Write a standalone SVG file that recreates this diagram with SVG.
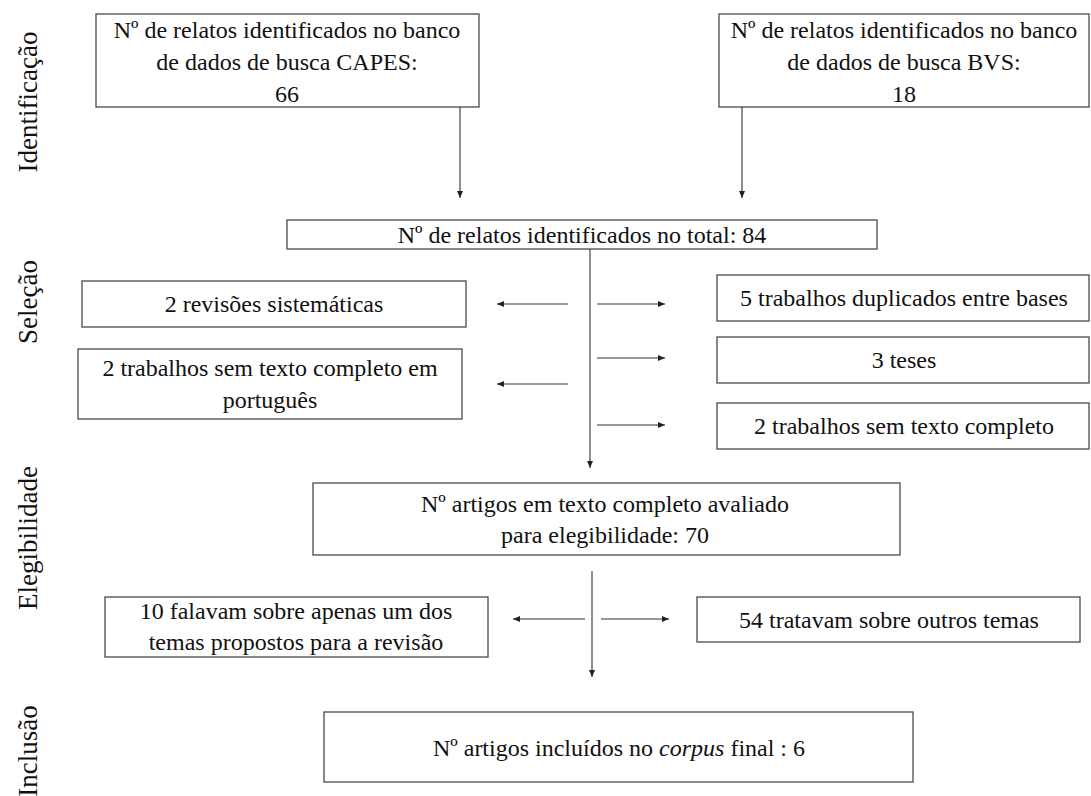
<svg xmlns="http://www.w3.org/2000/svg" width="1091" height="796" viewBox="0 0 1091 796">
<defs>
<style>
.box{fill:#fff;stroke:#4a4a4a;stroke-width:1.3}
.t{font-family:'Liberation Serif',Tinos,'Times New Roman',Times,'Nimbus Roman','DejaVu Serif',serif;font-size:24px;fill:#111;text-anchor:middle}
.lab{font-family:'Liberation Serif',Tinos,'Times New Roman',Times,'Nimbus Roman','DejaVu Serif',serif;font-size:27px;fill:#111;text-anchor:middle}
.c{fill:none;stroke:#333;stroke-width:1.1}
</style>
<marker id="ah" markerUnits="userSpaceOnUse" markerWidth="8" markerHeight="7" refX="7" refY="3" orient="auto">
<path d="M0,0 L7,3 L0,6 z" fill="#222"/>
</marker>
</defs>
<rect width="1091" height="796" fill="#fff"/>

<g id="labels" font-family="Liberation Serif, DejaVu Serif, serif">
<text class="lab" transform="translate(37,102) rotate(-90)">Identificação</text>
<text class="lab" transform="translate(37,302) rotate(-90)">Seleção</text>
<text class="lab" transform="translate(37,538) rotate(-90)">Elegibilidade</text>
<text class="lab" transform="translate(37,751) rotate(-90)">Inclusão</text>
</g>

<g id="capes">
<rect class="box" x="96" y="14" width="383" height="93"/>
<text class="t" x="287" y="38">Nº de relatos identificados no banco</text>
<text class="t" x="287" y="70">de dados de busca CAPES:</text>
<text class="t" x="287" y="102">66</text>
</g>

<g id="bvs">
<rect class="box" x="719" y="14" width="370" height="93"/>
<text class="t" x="904" y="38">Nº de relatos identificados no banco</text>
<text class="t" x="904" y="70">de dados de busca BVS:</text>
<text class="t" x="904" y="102">18</text>
</g>

<g id="total">
<rect class="box" x="287" y="220" width="590" height="29"/>
<text class="t" x="582" y="243">Nº de relatos identificados no total: 84</text>
</g>

<g id="revisoes">
<rect class="box" x="82" y="281" width="384" height="46"/>
<text class="t" x="274" y="312">2 revisões sistemáticas</text>
</g>

<g id="semportugues">
<rect class="box" x="78" y="349" width="384" height="70"/>
<text class="t" x="270" y="376">2 trabalhos sem texto completo em</text>
<text class="t" x="270" y="408">português</text>
</g>

<g id="duplicados">
<rect class="box" x="717" y="275" width="372" height="46"/>
<text class="t" x="904" y="306">5 trabalhos duplicados entre bases</text>
</g>

<g id="teses">
<rect class="box" x="717" y="337" width="372" height="46"/>
<text class="t" x="904" y="368">3 teses</text>
</g>

<g id="semtexto">
<rect class="box" x="717" y="403" width="372" height="46"/>
<text class="t" x="904" y="434">2 trabalhos sem texto completo</text>
</g>

<g id="elegibilidade">
<rect class="box" x="313" y="483" width="587" height="72"/>
<text class="t" x="605" y="512">Nº artigos em texto completo avaliado</text>
<text class="t" x="605" y="543">para elegibilidade: 70</text>
</g>

<g id="falavam">
<rect class="box" x="105" y="597" width="383" height="60"/>
<text class="t" x="296" y="619">10 falavam sobre apenas um dos</text>
<text class="t" x="296" y="650">temas propostos para a revisão</text>
</g>

<g id="outros">
<rect class="box" x="697" y="597" width="383" height="45"/>
<text class="t" x="889" y="628">54 tratavam sobre outros temas</text>
</g>

<g id="inclusao">
<rect class="box" x="324" y="712" width="589" height="70"/>
<text class="t" x="619" y="756">Nº artigos incluídos no <tspan font-style="italic">corpus</tspan> final : 6</text>
</g>

<g id="connectors">
<path class="c" d="M460,107 V198" marker-end="url(#ah)"/>
<path class="c" d="M742,107 V198" marker-end="url(#ah)"/>
<path class="c" d="M590,249 V468" marker-end="url(#ah)"/>
<path class="c" d="M568,304 H497" marker-end="url(#ah)"/>
<path class="c" d="M568,384 H497" marker-end="url(#ah)"/>
<path class="c" d="M597,304 H665" marker-end="url(#ah)"/>
<path class="c" d="M597,358 H665" marker-end="url(#ah)"/>
<path class="c" d="M597,425 H665" marker-end="url(#ah)"/>
<path class="c" d="M592,571 V677" marker-end="url(#ah)"/>
<path class="c" d="M585,619 H513" marker-end="url(#ah)"/>
<path class="c" d="M601,619 H669" marker-end="url(#ah)"/>
</g>
</svg>
